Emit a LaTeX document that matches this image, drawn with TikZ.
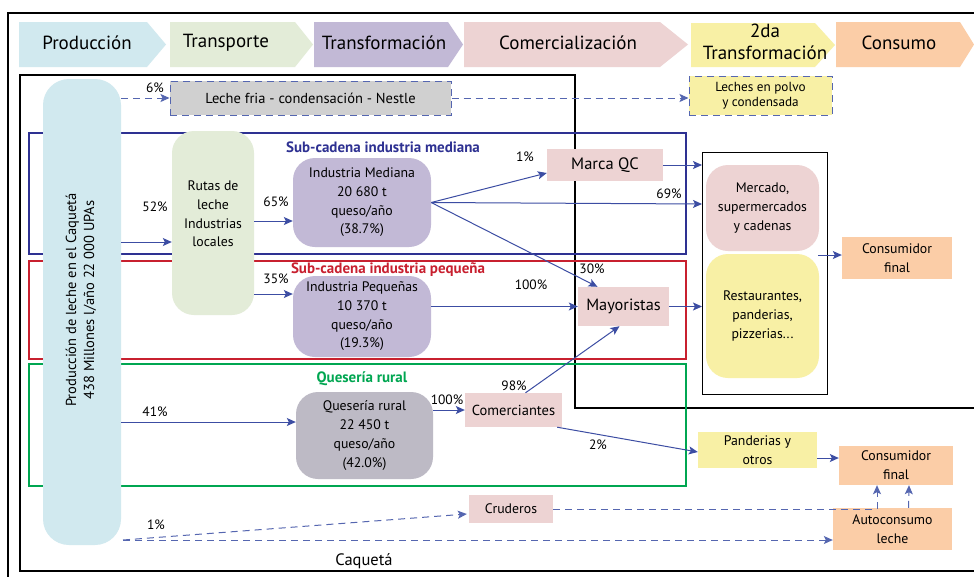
\documentclass[tikz,border=0pt]{standalone}
\usepackage{fontspec}
\setmainfont{PT Sans}
\usetikzlibrary{arrows.meta,calc}
\definecolor{cProd}{HTML}{D1E9EF}
\definecolor{cTrans}{HTML}{E3ECD8}
\definecolor{cTransf}{HTML}{C2B9D6}
\definecolor{cCom}{HTML}{EDD3D3}
\definecolor{cSeg}{HTML}{F8F0A5}
\definecolor{cCons}{HTML}{FBCDA7}
\definecolor{cGray}{HTML}{D0D0D0}
\definecolor{cQues}{HTML}{BDBAC5}
\definecolor{cBlue}{HTML}{2E3192}
\definecolor{cArrow}{HTML}{3C4DA3}
\definecolor{cDash}{HTML}{5566B0}
\definecolor{cRed}{HTML}{C8202F}
\definecolor{cGreen}{HTML}{00A651}
\tikzset{
  hdr/.style={inner sep=0, align=center, font=\fontsize{19}{22}\selectfont},
  lbl/.style={inner sep=0, font=\fontsize{13.5}{15}\selectfont},
  bx/.style={inner sep=0, align=center, font=\fontsize{13.8}{18.7}\selectfont},
  rbx/.style={bx, rounded corners=22pt},
  ttl/.style={inner sep=0, font=\fontsize{15}{17}\selectfont\bfseries},
  frm/.style={line width=1.5pt},
  arr/.style={draw=cArrow, line width=1pt, -{Stealth[length=9pt,width=8pt,inset=2pt]}},
  darr/.style={arr, draw=cDash, dash pattern=on 7pt off 5pt},
  dbox/.style={bx, draw=cDash, line width=1pt, dash pattern=on 7pt off 5pt},
}
\begin{document}
\begin{tikzpicture}[x=1pt,y=-1pt]
\useasboundingbox[fill=white] (0,0) rectangle (974,576);
% outer frame
\draw[line width=1.3pt] (8,590) -- (8,13) -- (990,13);
% header chevrons
\fill[cProd] (19,22) -- (147,22) -- (166,44.5) -- (147,67) -- (19,67) -- cycle;
\fill[cTrans] (170,22) -- (295,22) -- (313,44.5) -- (295,67) -- (170,67) -- cycle;
\fill[cTransf] (314,22) -- (448,22) -- (463,44.5) -- (448,67) -- (314,67) -- cycle;
\fill[cCom] (464,22) -- (660,22) -- (688,44.5) -- (660,67) -- (464,67) -- cycle;
\fill[cSeg] (691,23) -- (815,23) -- (835,45) -- (815,67) -- (691,67) -- cycle;
\fill[cCons] (836,22) -- (960,22) -- (974,44.5) -- (960,67) -- (836,67) -- cycle;
\node[hdr] (hProd) at (87,43) {Producción};
\node[hdr] (hTrans) at (226,43) {Transporte};
\node[hdr] (hTransf) at (384,43) {Transformación};
\node[hdr] (hCom) at (568,43) {Comercialización};
\node[hdr, font=\fontsize{19}{22}\selectfont] (hSeg) at (765,42) {2da\\Transformación};
\node[hdr] (hCons) at (899,43) {Consumo};
% Caqueta frame
\draw[frm] (990,408) -- (575,408) -- (575,75) -- (20,75) -- (20,571) -- (990,571);
\node[inner sep=0, font=\fontsize{16.5}{18}\selectfont] (caq) at (364,561) {Caquetá};
% sub-chain frames
\draw[frm, cBlue] (29,133) rectangle (686,254);
\draw[frm, cRed] (29,261) rectangle (686,359);
\draw[frm, cGreen] (29,364) rectangle (686,486);
\node[ttl, text=cBlue] (tMed) at (383,147) {Sub-cadena industria mediana};
\node[ttl, text=cRed] (tPeq) at (388,270) {Sub-cadena industria pequeña};
\node[ttl, text=cGreen] (tQue) at (362,379) {Quesería rural};
% production
\node[rbx, rounded corners=26pt, fill=cProd, minimum width=78, minimum height=466] (prod) at (82,312) {};
\node[inner sep=0, align=center, rotate=90, font=\fontsize{14.5}{18}\selectfont] (prodtxt) at (81,300)
  {Producción de leche en el Caquetá\\438 Millones l/año 22 000 UPAs};
% nodes
\node[dbox, fill=cGray, minimum width=281, minimum height=34, font=\fontsize{14.5}{17}\selectfont] (fria) at (310.5,98) {Leche fria - condensación - Nestle};
\node[dbox, fill=cSeg, minimum width=143, minimum height=39, font=\fontsize{13.2}{15.5}\selectfont] (polvo) at (760.5,95.5) {Leches en polvo\\y condensada};
\node[rbx, fill=cTrans, minimum width=82, minimum height=184] (rutas) at (213,223) {};
\node[bx] (rutastxt) at (213,214) {Rutas de\\leche\\Industrias\\locales};
\node[rbx, fill=cTransf, minimum width=138, minimum height=89] (imed) at (362,202.5) {Industria Mediana\\20 680 t\\queso/año\\(38.7\%)};
\node[rbx, fill=cTransf, minimum width=138, minimum height=81] (ipeq) at (362,316.5) {Industria Pequeñas\\10 370 t\\queso/año\\(19.3\%)};
\node[rbx, fill=cQues, minimum width=137, minimum height=87] (ques) at (364.5,435.5) {Quesería rural\\22 450 t\\queso/año\\(42.0\%)};
\node[bx, fill=cCom, minimum width=97, minimum height=34, font=\fontsize{14.5}{16}\selectfont] (comer) at (513.5,410) {Comerciantes};
\node[bx, fill=cCom, minimum width=116, minimum height=32, font=\fontsize{16.5}{18}\selectfont] (marca) at (605,165) {Marca QC};
\node[bx, fill=cCom, minimum width=91, minimum height=39, font=\fontsize{16.3}{18}\selectfont] (mayor) at (623.5,306.5) {Mayoristas};
\draw[line width=1pt] (702,152) rectangle (827,394);
\node[rbx, fill=cCom, minimum width=113, minimum height=86] (merc) at (762.5,208) {Mercado,\\supermercados\\y cadenas};
\node[rbx, fill=cSeg, minimum width=113, minimum height=124] (resto) at (762.5,316) {Restaurantes,\\panderias,\\pizzerias...};
\node[bx, fill=cCons, minimum width=110, minimum height=42] (cons1) at (897,258) {Consumidor\\final};
\node[bx, fill=cSeg, minimum width=119, minimum height=36] (pand) at (757.5,450) {Panderias y\\otros};
\node[bx, fill=cCons, minimum width=114, minimum height=39] (cons2) at (896,465.5) {Consumidor\\final};
\node[bx, fill=cCons, minimum width=119, minimum height=42] (auto) at (892.5,529) {Autoconsumo\\leche};
\node[bx, fill=cCom, minimum width=84, minimum height=28] (crud) at (511,509) {Cruderos};
\coordinate (frameR) at (818,255);
\coordinate (pb) at (123,540);
% solid arrows
\draw[arr] (prod.east |- 0,242) -- (rutas.west |- 0,242);
\draw[arr] (rutas.east |- 0,221) -- (imed.west |- 0,221);
\draw[arr] (rutas.east |- 0,294) -- (ipeq.west |- 0,294);
\draw[arr] (prod.east |- 0,422) -- (ques.west |- 0,422);
\draw[arr] (ques.east |- comer.west) -- (comer.west);
\draw[arr] (imed.east) -- (marca.west |- 0,173);
\draw[arr] (imed.east) -- (702,204);
\draw[arr] (imed.east) -- ($(mayor.north)+(-26,0)$);
\draw[arr] (ipeq.east |- mayor.west) -- (mayor.west);
\draw[arr] ($(comer.north)+(12,0)$) -- ($(mayor.south)+(-4,0)$);
\draw[arr] ($(comer.south east)+(-5,0)$) -- ($(pand.west)+(0,2)$);
\draw[arr] (marca.east) -- (702,165);
\draw[arr] (mayor.east) -- (702,306.5);
\draw[arr] (frameR) -- (cons1.west |- frameR);
\draw[arr] (pand.east |- 0,458) -- (cons2.west |- 0,458);
% dashed arrows
\draw[darr] (prod.east |- fria.west) -- (fria.west);
\draw[darr] (fria.east) -- (polvo.west |- fria.east);
\draw[darr] (pb) -- ($(crud.west)+(-2,5)$);
\draw[darr] (pb) -- (auto.west |- pb);
\draw[darr] (crud.east) -| ($(cons2.south)+(-19,0)$);
\draw[darr] ($(auto.north)+(16,0)$) -- ($(cons2.south)+(13,0)$);
% labels
\node[lbl] (p6) at (155,88) {6\%};
\node[lbl] (p52) at (155,207) {52\%};
\node[lbl] (p65) at (276,202) {65\%};
\node[lbl] (p35) at (276,279) {35\%};
\node[lbl] (p41) at (155,412) {41\%};
\node[lbl] (p100a) at (447,400) {100\%};
\node[lbl] (p1a) at (525,157) {1\%};
\node[lbl] (p69) at (669,194) {69\%};
\node[lbl] (p30) at (592,269) {30\%};
\node[lbl] (p100b) at (531,285) {100\%};
\node[lbl] (p98) at (514,386) {98\%};
\node[lbl] (p2) at (598,445) {2\%};
\node[lbl] (p1b) at (156,525) {1\%};
\end{tikzpicture}
\end{document}
